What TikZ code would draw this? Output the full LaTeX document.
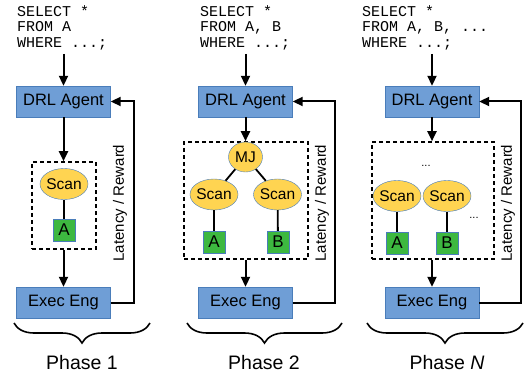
\documentclass[tikz,border=0pt]{standalone}
\usepackage{fontspec}
\setmainfont{Liberation Sans}
\setmonofont{Liberation Mono}
\usetikzlibrary{arrows.meta,shapes.geometric,decorations.pathreplacing}
\definecolor{AGENT}{HTML}{6F9ED6}
\definecolor{EDGE}{HTML}{4A7DBA}
\definecolor{SCAN}{HTML}{FFD451}
\definecolor{REL}{HTML}{3DB840}

\begin{document}
\begin{tikzpicture}[x=1pt,y=-1pt]
\tikzset{arr/.style={-{Triangle[length=10pt,width=9pt]},line width=2pt},link/.style={line width=1.8pt},
 box/.style={draw=EDGE,fill=AGENT,minimum width=94pt,minimum height=31pt,font=\fontsize{16.5}{18}\selectfont},
 op/.style={ellipse,draw=EDGE,fill=SCAN,minimum width=48pt,minimum height=31pt,inner ysep=0pt,inner xsep=-1.5pt,font=\fontsize{15.5}{17}\selectfont},
 rel/.style={draw=EDGE,fill=REL,minimum size=22pt,inner sep=0pt,font=\fontsize{17}{18}\selectfont},
 plan/.style={draw,line width=1.6pt,dash pattern=on 4pt off 3pt,inner sep=0pt},
 sql/.style={font=\ttfamily\fontsize{15}{15.5}\selectfont,align=left,anchor=north west,inner sep=0pt},
 fb/.style={rotate=90,font=\fontsize{15}{17}\selectfont},
 brc/.style={decorate,decoration={brace,amplitude=20pt},line width=1.6pt},
 phase/.style={font=\fontsize{19.5}{23}\selectfont},dots/.style={font=\fontsize{11}{12}\selectfont}}
\useasboundingbox (0,0) rectangle (529,379);
% phase 1
\node[sql] (sql1) at (17,5) {SELECT *\\FROM A\\WHERE ...;};
\node[box] (agent1) at (63.5,101.5) {DRL Agent};
\node[plan,minimum width=64pt,minimum height=87pt] (plan1) at (64,205.5) {};
\node[op] (scan1) at (64,184) {Scan};
\node[rel] (relA1) at (64,230) {A};
\node[box] (exec1) at (63.5,302.5) {Exec Eng};
\draw[arr,shorten <=4pt] (agent1 |- sql1.south) -- (agent1);
\draw[arr] (agent1) -- (agent1 |- plan1.north);
\draw[link] (scan1) -- (relA1);
\draw[arr] (exec1 |- plan1.south) -- (exec1);
\draw[arr] (exec1.east) -- ++(23,0) |- (agent1.east);
\node[fb] (fb1) at (120,203) {Latency / Reward};
\draw[brc] (150,323) -- (14,323);
\node[phase] (ph1) at (82,363) {Phase 1};
% phase 2
\node[sql] (sql2) at (200,5) {SELECT *\\FROM A, B\\WHERE ...;};
\node[box] (agent2) at (245.5,101.5) {DRL Agent};
\node[plan,minimum width=124pt,minimum height=117pt] (plan2) at (246,200.5) {};
\node[op,minimum width=34pt,minimum height=30pt] (mj2) at (245.5,157) {MJ};
\node[op] (scanA2) at (214,194.5) {Scan};
\node[op] (scanB2) at (277.5,194.5) {Scan};
\node[rel] (relA2) at (214,242) {A};
\node[rel] (relB2) at (278,242) {B};
\node[box] (exec2) at (245.5,302.5) {Exec Eng};
\draw[arr,shorten <=4pt] (agent2 |- sql2.south) -- (agent2);
\draw[arr] (agent2) -- (agent2 |- plan2.north);
\draw[link] (mj2) -- (scanA2);
\draw[link] (mj2) -- (scanB2);
\draw[link] (scanA2) -- (relA2);
\draw[link] (scanB2) -- (relB2);
\draw[arr] (exec2 |- plan2.south) -- (exec2);
\draw[arr] (exec2.east) -- ++(42.5,0) |- (agent2.east);
\node[fb] (fb2) at (322,203) {Latency / Reward};
\draw[brc] (342,323) -- (187,323);
\node[phase] (ph2) at (264,363) {Phase 2};
% phase N
\node[sql] (sqlN) at (362,5) {SELECT *\\FROM A, B, ...\\WHERE ...;};
\node[box] (agentN) at (432,101.5) {DRL Agent};
\node[plan,minimum width=122pt,minimum height=117pt] (planN) at (433,200.5) {};
\node[dots] (topN) at (426,166) {...};
\node[op] (scanAN) at (397,196) {Scan};
\node[op] (scanBN) at (447,196) {Scan};
\node[rel] (relAN) at (397,243) {A};
\node[rel] (relBN) at (447,243) {B};
\node[dots] (sideN) at (474,218) {...};
\node[box] (execN) at (432,302.5) {Exec Eng};
\draw[arr,shorten <=4pt] (agentN |- sqlN.south) -- (agentN);
\draw[arr] (agentN) -- (agentN |- planN.north);
\draw[link] (scanAN) -- (relAN);
\draw[link] (scanBN) -- (relBN);
\draw[arr] (execN |- planN.south) -- (execN);
\draw[arr] (execN.east) -- ++(42,0) |- (agentN.east);
\node[fb] (fbN) at (508,203) {Latency / Reward};
\draw[brc] (523,323) -- (367,323);
\node[phase] (phN) at (447,363) {Phase \textit{N}};
\end{tikzpicture}
\end{document}
